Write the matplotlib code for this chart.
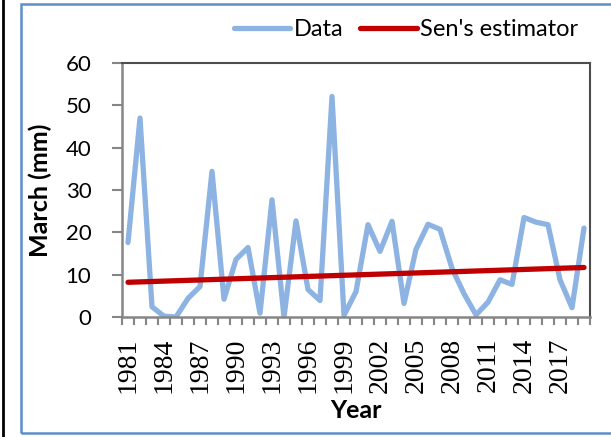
import matplotlib
matplotlib.use("Agg")
import matplotlib.pyplot as plt
from matplotlib.lines import Line2D
from matplotlib.patches import Rectangle
import numpy as np

# ---- data ----
years = list(range(1981, 2020))
march_mm = [17.6, 47.0, 2.4, 0.2, 0.0, 4.4, 7.2, 34.4, 4.2, 13.6,
            16.4, 0.9, 27.7, 0.0, 22.7, 6.5, 3.9, 52.1, 0.4, 6.0,
            21.8, 15.5, 22.6, 3.2, 16.0, 21.9, 20.7, 11.5, 5.5, 0.5,
            3.5, 8.8, 7.7, 23.5, 22.4, 21.8, 8.8, 2.2, 21.0]
sen_intercept = 8.2     # value at 1981
sen_slope = 0.092       # mm per year
y_ticks = [0, 10, 20, 30, 40, 50, 60]
label_years = years[::3]  # 1981..2017

W, H = 611, 437
fig = plt.figure(figsize=(W / 100, H / 100), dpi=100)
ax = fig.add_axes([122 / W, 1 - 317 / H, (590 - 122) / W, (317 - 63) / H])

x = np.arange(len(years))
sen = [sen_intercept + sen_slope * i for i in x]

blue = '#8db3e2'
red = '#c00000'
ax.plot(x, march_mm, color=blue, lw=3.8, solid_joinstyle='round', solid_capstyle='round', zorder=2)
ax.plot(x, sen, color=red, lw=3.8, solid_capstyle='round', zorder=3)

ax.set_xlim(-0.5, len(years) - 0.5)
ax.set_ylim(0, 60)

# y axis
ax.set_yticks(y_ticks)
ax.set_yticklabels([str(v) for v in y_ticks], fontfamily='Lato', fontsize=16)
ax.tick_params(axis='y', direction='out', length=7, width=1.5, color='#868686', pad=15)

# x axis
pos = [years.index(y) for y in label_years]
ax.set_xticks(pos)
ax.set_xticklabels([str(y) for y in label_years], rotation=90,
                   fontfamily='Liberation Serif', fontsize=20)
ax.tick_params(axis='x', which='major', length=0, pad=15)
ax.set_xticks(np.arange(len(years) + 1) - 0.5, minor=True)
ax.tick_params(axis='x', which='minor', direction='out', length=6, width=1.5, color='#868686')

for s in ['left', 'bottom']:
    ax.spines[s].set_color('#868686')
    ax.spines[s].set_linewidth(1.8)
for s in ['top', 'right']:
    ax.spines[s].set_color('#4d4d4d')
    ax.spines[s].set_linewidth(1.5)

ax.set_ylabel('March (mm)', fontfamily='Lato', fontweight='bold', fontsize=18, labelpad=10)
ax.set_xlabel('Year', fontfamily='Lato', fontweight='bold', fontsize=18, labelpad=4)

handles = [Line2D([], [], color=blue, lw=3.8, solid_capstyle='round'),
           Line2D([], [], color=red, lw=3.8, solid_capstyle='round')]
fig.legend(handles, ['Data', "Sen's estimator"], loc='center',
           bbox_to_anchor=(406 / W, 1 - 30 / H), ncol=2, frameon=False,
           prop={'family': 'Lato', 'size': 17}, handlelength=2.4,
           handletextpad=0.15, columnspacing=0.7, borderaxespad=0)

# outer frames
fig.add_artist(Line2D([3 / W, 3 / W], [0, 1], color='black', lw=2, transform=fig.transFigure))
fig.add_artist(Rectangle((21 / W, 4 / H), 1.0, (433 - 4) / H, fill=False,
                         edgecolor='#5f8fca', lw=1.8, transform=fig.transFigure))

fig.savefig('out.png', dpi=100)
